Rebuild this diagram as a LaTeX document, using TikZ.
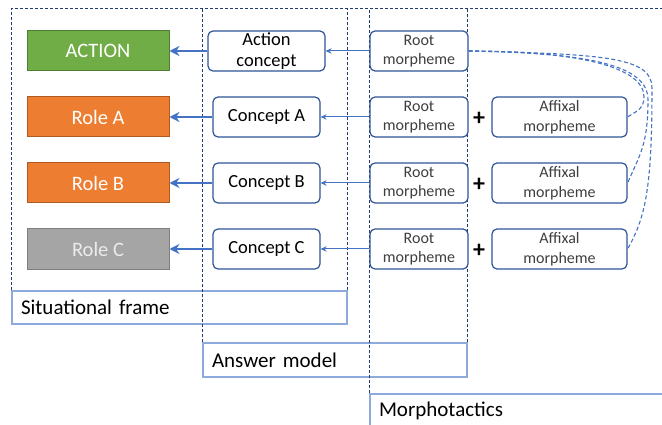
\documentclass[tikz,border=0pt]{standalone}
\usepackage{fontspec}
\setmainfont{Carlito}
\usetikzlibrary{arrows.meta}

\definecolor{framenavy}{HTML}{233A6E}
\definecolor{labelblue}{HTML}{8EA9DB}
\definecolor{boxblue}{HTML}{2F5597}
\definecolor{linkblue}{HTML}{4472C4}
\definecolor{actgreen}{HTML}{70AD47}
\definecolor{actgreenedge}{HTML}{507E32}
\definecolor{roleorange}{HTML}{ED7D31}
\definecolor{roleorangeedge}{HTML}{AE5A21}
\definecolor{rolegray}{HTML}{A5A5A5}
\definecolor{rolegrayedge}{HTML}{7F7F7F}
\definecolor{morphtext}{HTML}{3F3F3F}

\tikzset{
  rolebox/.style={minimum width=142pt, minimum height=40pt, inner sep=0pt,
    line width=1pt, text=white, font=\fontsize{20.5}{23}\selectfont},
  conceptbox/.style={draw=boxblue, line width=1.2pt, rounded corners=5pt,
    fill=white, minimum height=40pt, inner sep=0pt, align=center,
    font=\fontsize{18.5}{20.5}\selectfont},
  morphbox/.style={conceptbox, text=morphtext, font=\fontsize{16}{19.5}\selectfont},
  frameline/.style={framenavy, line width=1pt, dash pattern=on 3pt off 2pt},
  labelbox/.style={draw=labelblue, line width=1.2pt, fill=white, inner xsep=9pt,
    inner ysep=0pt, align=left, font=\fontsize{21}{24}\selectfont},
  bigarrow/.style={linkblue, line width=2.8pt, -{Stealth[length=10pt,width=10pt]}},
  smallarrow/.style={linkblue, line width=1pt, -{Stealth[length=6pt,width=5.5pt]}},
  affixlink/.style={linkblue, line width=1.1pt, dash pattern=on 4pt off 2.5pt},
  plus/.style={font=\fontsize{24}{24}\selectfont\bfseries, inner sep=0pt}
}

\begin{document}
\begin{tikzpicture}[x=1pt,y=1pt]
\clip (0,0) rectangle (662,-425);
\fill[white] (0,0) rectangle (662,-425);

% label boxes at the foot of each layer
\node[labelbox, minimum width=335pt, minimum height=33pt, text width=317pt]
  (sf) at (179.5,-307.5) {Situational frame};
\node[labelbox, minimum width=264pt, minimum height=34pt, text width=246pt]
  (am) at (335,-360) {Answer model};
\node[labelbox, minimum width=330pt, minimum height=34pt, text width=312pt]
  (mt) at (535,-411) {Morphotactics};

% dashed outlines of the three layers
\coordinate (top) at (0,-9);
\draw[frameline] (sf.north west) -- (sf.north west |- top) -- (662,-9);
\draw[frameline] (sf.north east) -- (sf.north east |- top);
\draw[frameline] (am.north west) -- (am.north west |- top);
\draw[frameline] (am.north east) -- (am.north east |- top);
\draw[frameline] (mt.north west) -- (mt.north west |- top);

% situational frame
\node[rolebox, fill=actgreen, draw=actgreenedge] (act) at (98,-51) {ACTION};
\node[rolebox, fill=roleorange, draw=roleorangeedge] (ra) at (98,-117) {Role A};
\node[rolebox, fill=roleorange, draw=roleorangeedge] (rb) at (98,-183) {Role B};
\node[rolebox, fill=rolegray, draw=rolegrayedge, text=white!92!black] (rc) at (98,-249) {Role C};

% answer model
\node[conceptbox, minimum width=117pt] (cact) at (266.5,-51) {Action\\concept};
\node[conceptbox, minimum width=107pt] (ca) at (266.5,-117) {Concept A};
\node[conceptbox, minimum width=107pt] (cb) at (266.5,-183) {Concept B};
\node[conceptbox, minimum width=107pt] (cc) at (266.5,-249) {Concept C};

% morphotactics
\node[morphbox, minimum width=98pt] (r0) at (419,-51) {Root\\morpheme};
\node[morphbox, minimum width=98pt] (r1) at (419,-117) {Root\\morpheme};
\node[morphbox, minimum width=98pt] (r2) at (419,-183) {Root\\morpheme};
\node[morphbox, minimum width=98pt] (r3) at (419,-249) {Root\\morpheme};
\node[morphbox, minimum width=135pt] (a1) at (559.5,-117) {Affixal\\morpheme};
\node[morphbox, minimum width=135pt] (a2) at (559.5,-183) {Affixal\\morpheme};
\node[morphbox, minimum width=135pt] (a3) at (559.5,-249) {Affixal\\morpheme};
\node[plus] (p1) at (479,-119) {+};
\node[plus] (p2) at (479,-185) {+};
\node[plus] (p3) at (479,-251) {+};

% concept to role
\draw[bigarrow] (cact) -- (act);
\draw[bigarrow] (ca) -- (ra);
\draw[bigarrow] (cb) -- (rb);
\draw[bigarrow] (cc) -- (rc);

% morpheme to concept
\draw[smallarrow] (r0) -- (cact);
\draw[smallarrow] (r1) -- (ca);
\draw[smallarrow] (r2) -- (cb);
\draw[smallarrow] (r3) -- (cc);

% the action root licenses each affix
\coordinate (k1) at (644,-97);
\coordinate (k2) at (648,-100);
\coordinate (k3) at (652,-88);
\draw[affixlink] (r0.east) .. controls +(110,0) and +(0,30) .. (k1)
  .. controls +(0,-12) and +(9,6) .. (a1.east);
\draw[affixlink] (r0.east) .. controls +(125,-2) and +(0,34) .. (k2)
  .. controls +(0,-45) and +(12,28) .. (a2.east);
\draw[affixlink] (r0.east) .. controls +(140,-3) and +(0,30) .. (k3)
  .. controls +(0,-100) and +(18,32) .. (a3.east);
\end{tikzpicture}
\end{document}
